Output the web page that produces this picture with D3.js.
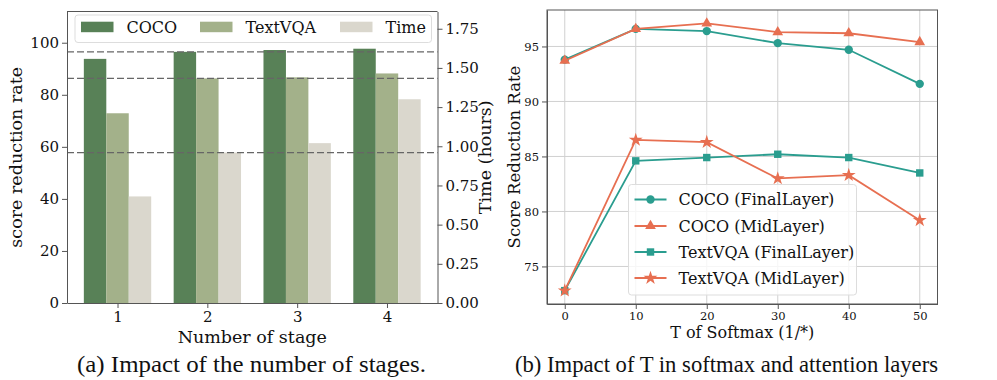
<!DOCTYPE html>
<html>
<head>
<meta charset="utf-8">
<script src="https://cdn.jsdelivr.net/npm/d3@7"></script>
<style>
  body { margin: 0; background: #fff; }
  svg text { font-family: "DejaVu Serif", serif; fill: #111; }
  .caption { font-family: "Liberation Serif", "Times New Roman", serif; }
  .domain { stroke: #555; }
  .tick line { stroke: #555; }
</style>
</head>
<body>
<div class="content"></div>
<script>
// ---- data, panel (a) ----
var stages = [1, 2, 3, 4];
var cocoRate = [93.8, 96.5, 97.2, 97.7];
var textvqaRate = [72.9, 86.3, 86.7, 88.2];
var timeHours = [0.68, 0.96, 1.02, 1.30];
var barNames = ["COCO", "TextVQA", "Time"];
var barColors = ["#588157", "#a3b18a", "#dad7cd"];

// ---- data, panel (b) ----
var temps = [0, 10, 20, 30, 40, 50];
var cocoFinal = [93.8, 96.6, 96.4, 95.3, 94.7, 91.6];
var cocoMid = [93.7, 96.6, 97.1, 96.3, 96.2, 95.4];
var textvqaFinal = [72.8, 84.6, 84.9, 85.2, 84.9, 83.5];
var textvqaMid = [72.8, 86.5, 86.3, 83.0, 83.3, 79.2];
var lineNames = ["COCO (FinalLayer)", "COCO (MidLayer)", "TextVQA (FinalLayer)", "TextVQA (MidLayer)"];
var teal = "#2a9d8f", orange = "#e76f51";

var svg = d3.select("div.content").append("svg")
    .attr("width", 997)
    .attr("height", 380);

// ================= panel (a) =================
var a = {left: 67, right: 437.5, top: 11.5, bottom: 303};
var x = d3.scaleLinear().domain([0.4375, 4.5625]).range([a.left, a.right]);
var yL = d3.scaleLinear().domain([0, 112]).range([a.bottom, a.top]);
var yR = d3.scaleLinear().domain([0, 1.86]).range([a.bottom, a.top]);
var bw = 0.25;

var gA = svg.append("g");

var series = [cocoRate, textvqaRate, timeHours];
series.forEach(function(vals, k){
    var yy = k == 2 ? yR : yL;
    gA.selectAll(".bar" + k)
        .data(vals)
    .enter().append("rect")
        .attr("class", "bar" + k)
        .attr("x", function(d, i){ return x(stages[i] + (k - 1) * bw - bw / 2); })
        .attr("width", x(bw) - x(0))
        .attr("y", function(d){ return yy(d); })
        .attr("height", function(d){ return a.bottom - yy(d); })
        .style("fill", barColors[k]);
});

// dashed reference lines at stage 2 values
var refs = [yL(cocoRate[1]), yL(textvqaRate[1]), yR(timeHours[1])];
gA.selectAll(".ref")
    .data(refs)
.enter().append("line")
    .attr("class", "ref")
    .attr("x1", a.left).attr("x2", a.right)
    .attr("y1", function(d){ return d; })
    .attr("y2", function(d){ return d; })
    .style("stroke", "#666")
    .style("stroke-width", 1.3)
    .style("stroke-dasharray", "7,3");

// axes
gA.append("g")
    .attr("transform", "translate(0," + a.bottom + ")")
    .call(d3.axisBottom(x).tickValues(stages).tickFormat(d3.format("d")).tickSize(5).tickPadding(3).tickSizeOuter(0))
    .style("font-size", "15px").style("font-family", "DejaVu Serif");
gA.append("g")
    .attr("transform", "translate(" + a.left + ",0)")
    .call(d3.axisLeft(yL).tickValues([0, 20, 40, 60, 80, 100]).tickSize(5).tickPadding(3).tickSizeOuter(0))
    .style("font-size", "15px").style("font-family", "DejaVu Serif");
gA.append("g")
    .attr("transform", "translate(" + a.right + ",0)")
    .call(d3.axisRight(yR).tickValues([0, 0.25, 0.5, 0.75, 1.0, 1.25, 1.5, 1.75]).tickFormat(d3.format(".2f")).tickSize(5).tickPadding(3).tickSizeOuter(0))
    .style("font-size", "15px").style("font-family", "DejaVu Serif");
gA.append("line")
    .attr("x1", a.left).attr("x2", a.right)
    .attr("y1", a.top).attr("y2", a.top)
    .style("stroke", "#555");

// legend (a)
gA.append("rect")
    .attr("x", 75).attr("y", 15).attr("width", 356.5).attr("height", 27.5)
    .attr("rx", 3)
    .style("fill", "rgba(255,255,255,0.8)")
    .style("stroke", "#ddd");
var legA = [81, 200, 340];
barNames.forEach(function(n, k){
    gA.append("rect")
        .attr("x", legA[k]).attr("y", 21.7).attr("width", 32.5).attr("height", 10.5)
        .style("fill", barColors[k]);
    gA.append("text")
        .attr("x", legA[k] + 45.5).attr("y", 33)
        .style("font-size", "16px")
        .text(n);
});

// labels
gA.append("text")
    .attr("x", (a.left + a.right) / 2).attr("y", 343)
    .style("text-anchor", "middle").style("font-size", "17.5px")
    .text("Number of stage");
gA.append("text")
    .attr("transform", "translate(22," + (a.top + a.bottom) / 2 + ") rotate(-90)")
    .style("text-anchor", "middle").style("font-size", "17.5px")
    .text("score reduction rate");
gA.append("text")
    .attr("transform", "translate(491," + (a.top + a.bottom) / 2 + ") rotate(-90)")
    .style("text-anchor", "middle").style("font-size", "17.5px")
    .text("Time (hours)");
gA.append("text")
    .attr("class", "caption")
    .attr("x", 251.5).attr("y", 372)
    .attr("textLength", 349).attr("lengthAdjust", "spacingAndGlyphs")
    .style("text-anchor", "middle").style("font-size", "23px")
    .text("(a) Impact of the number of stages.");

// ================= panel (b) =================
var b = {left: 547, right: 937.5, top: 10, bottom: 304};
var xb = d3.scaleLinear().domain([-2.5, 52.5]).range([b.left, b.right]);
var yb = d3.scaleLinear().domain([71.585, 98.315]).range([b.bottom, b.top]);
var gB = svg.append("g");

// grid
gB.selectAll(".vgrid")
    .data(temps)
.enter().append("line")
    .attr("x1", function(d){ return xb(d); }).attr("x2", function(d){ return xb(d); })
    .attr("y1", b.top).attr("y2", b.bottom)
    .style("stroke", "#d0d0d0");
gB.selectAll(".hgrid")
    .data([75, 80, 85, 90, 95])
.enter().append("line")
    .attr("x1", b.left).attr("x2", b.right)
    .attr("y1", function(d){ return yb(d); }).attr("y2", function(d){ return yb(d); })
    .style("stroke", "#d0d0d0");

var lines = [
    {vals: cocoFinal, color: teal, sym: d3.symbolCircle, size: 55},
    {vals: cocoMid, color: orange, sym: d3.symbolTriangle, size: 50},
    {vals: textvqaFinal, color: teal, sym: d3.symbolSquare, size: 55},
    {vals: textvqaMid, color: orange, sym: d3.symbolStar, size: 60}
];
var valueLine = d3.line().x(function(d, i){ return xb(temps[i]); }).y(function(d){ return yb(d); });

lines.forEach(function(s){
    gB.append("path")
        .data([s.vals])
        .attr("d", valueLine)
        .style("fill", "none")
        .style("stroke", s.color)
        .style("stroke-width", 1.8);
    gB.selectAll(null)
        .data(s.vals)
    .enter().append("path")
        .attr("d", d3.symbol().type(s.sym).size(s.size))
        .attr("transform", function(d, i){ return "translate(" + xb(temps[i]) + "," + yb(d) + ")"; })
        .style("fill", s.color);
});

gB.append("g")
    .attr("transform", "translate(0," + b.bottom + ")")
    .call(d3.axisBottom(xb).tickValues(temps).tickSize(5).tickPadding(3).tickSizeOuter(0))
    .style("font-size", "11.5px").style("font-family", "DejaVu Serif");
gB.append("g")
    .attr("transform", "translate(" + b.left + ",0)")
    .call(d3.axisLeft(yb).tickValues([75, 80, 85, 90, 95]).tickSize(5).tickPadding(3).tickSizeOuter(0))
    .style("font-size", "11.5px").style("font-family", "DejaVu Serif");
gB.append("rect")
    .attr("x", b.left).attr("y", b.top)
    .attr("width", b.right - b.left).attr("height", b.bottom - b.top)
    .style("fill", "none").style("stroke", "#555");

// legend (b)
gB.append("rect")
    .attr("x", 628.5).attr("y", 184.5).attr("width", 228).attr("height", 110.5)
    .attr("rx", 3)
    .style("fill", "rgba(255,255,255,0.8)")
    .style("stroke", "#ddd");
var rowY = [199.5, 226, 252, 278];
lines.forEach(function(s, k){
    gB.append("line")
        .attr("x1", 634.5).attr("x2", 666.5)
        .attr("y1", rowY[k]).attr("y2", rowY[k])
        .style("stroke", s.color).style("stroke-width", 1.8);
    gB.append("path")
        .attr("d", d3.symbol().type(s.sym).size(s.size))
        .attr("transform", "translate(650.5," + rowY[k] + ")")
        .style("fill", s.color);
    gB.append("text")
        .attr("x", 678.5).attr("y", rowY[k] + 5.5)
        .style("font-size", "16px")
        .text(lineNames[k]);
});

gB.append("text")
    .attr("x", (b.left + b.right) / 2).attr("y", 338)
    .style("text-anchor", "middle").style("font-size", "16px")
    .text("T of Softmax (1/*)");
gB.append("text")
    .attr("transform", "translate(520," + (b.top + b.bottom) / 2 + ") rotate(-90)")
    .style("text-anchor", "middle").style("font-size", "16.5px")
    .text("Score Reduction Rate");
gB.append("text")
    .attr("class", "caption")
    .attr("x", 726.5).attr("y", 372)
    .attr("textLength", 423).attr("lengthAdjust", "spacingAndGlyphs")
    .style("text-anchor", "middle").style("font-size", "23px")
    .text("(b) Impact of T in softmax and attention layers");
</script>
</body>
</html>
